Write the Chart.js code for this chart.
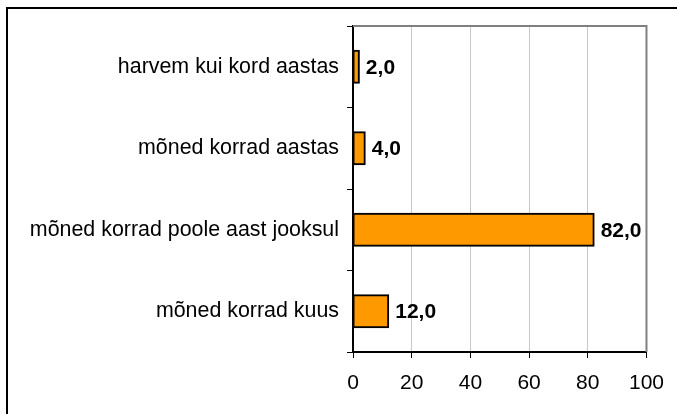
<!DOCTYPE html>
<html>
<head>
<meta charset="utf-8">
<script src="https://cdn.jsdelivr.net/npm/chart.js@4/dist/chart.umd.min.js"></script>
<style>
    html, body { margin: 0; padding: 0; background: #fff; }
    #wrap { width: 677px; height: 414px; }
</style>
</head>
<body>
<div id="wrap"><canvas id="chart" width="677" height="414"></canvas></div>
<script>
// --- Data ---
const categories = ['harvem kui kord aastas', 'mõned korrad aastas', 'mõned korrad poole aast jooksul', 'mõned korrad kuus'];
const values = [2.0, 4.0, 82.0, 12.0];
const xTicks = [0, 20, 40, 60, 80, 100];

const fontFamily = "'Liberation Sans', Arial, sans-serif";

// outer frame (top + left only) and grey plot-area border
const framePlugin = {
    id: 'frame',
    beforeDraw(chart) {
        const ctx = chart.ctx;
        ctx.save();
        ctx.fillStyle = '#fff';
        ctx.fillRect(0, 0, chart.width, chart.height);
        ctx.strokeStyle = '#000';
        ctx.lineWidth = 2;
        ctx.beginPath();
        ctx.moveTo(7, chart.height);
        ctx.lineTo(7, 8);
        ctx.lineTo(chart.width, 8);
        ctx.stroke();
        ctx.restore();
    },
    beforeDatasetsDraw(chart) {
        const { ctx, chartArea } = chart;
        ctx.save();
        ctx.strokeStyle = '#808080';
        ctx.lineWidth = 2;
        ctx.beginPath();
        ctx.moveTo(chartArea.left, chartArea.top);
        ctx.lineTo(chartArea.right, chartArea.top);
        ctx.lineTo(chartArea.right, chartArea.bottom);
        ctx.stroke();
        ctx.restore();
    }
};

// value labels to the right of each bar
const valueLabels = {
    id: 'valueLabels',
    afterDatasetsDraw(chart) {
        const ctx = chart.ctx;
        const meta = chart.getDatasetMeta(0);
        ctx.save();
        ctx.font = 'bold 21px ' + fontFamily;
        ctx.fillStyle = '#000';
        ctx.textBaseline = 'middle';
        ctx.textAlign = 'left';
        meta.data.forEach((bar, i) => {
            ctx.fillText(values[i].toFixed(1).replace('.', ','), bar.x + 7, bar.y + 1);
        });
        ctx.restore();
    }
};

new Chart(document.getElementById('chart').getContext('2d'), {
    type: 'bar',
    data: {
        labels: categories,
        datasets: [{
            data: values,
            backgroundColor: '#FF9900',
            borderColor: '#000',
            borderWidth: 2,
            borderSkipped: false,
            inflateAmount: 1,
            barPercentage: 0.39,
            categoryPercentage: 1
        }]
    },
    options: {
        indexAxis: 'y',
        responsive: false,
        animation: false,
        devicePixelRatio: 1,
        layout: { padding: { top: 26, right: 30, left: 0, bottom: 0 } },
        plugins: {
            legend: { display: false },
            tooltip: { enabled: false }
        },
        scales: {
            x: {
                min: 0,
                max: 100,
                afterBuildTicks: scale => { scale.ticks = xTicks.map(v => ({ value: v })); },
                ticks: { color: '#000', font: { size: 21, family: fontFamily }, padding: 13, maxRotation: 0 },
                grid: { color: '#c8c8c8', tickColor: '#000', tickLength: 6, lineWidth: 1 },
                border: { color: '#000', width: 2 },
                afterFit: scale => { scale.height = 62; }
            },
            y: {
                ticks: { color: '#000', font: { size: 21.4, family: fontFamily }, padding: 8 },
                grid: { drawOnChartArea: false, tickColor: '#000', tickLength: 6, offset: true },
                border: { color: '#000', width: 2 },
                afterFit: scale => { scale.width = 353; }
            }
        }
    },
    plugins: [framePlugin, valueLabels]
});
</script>
</body>
</html>
